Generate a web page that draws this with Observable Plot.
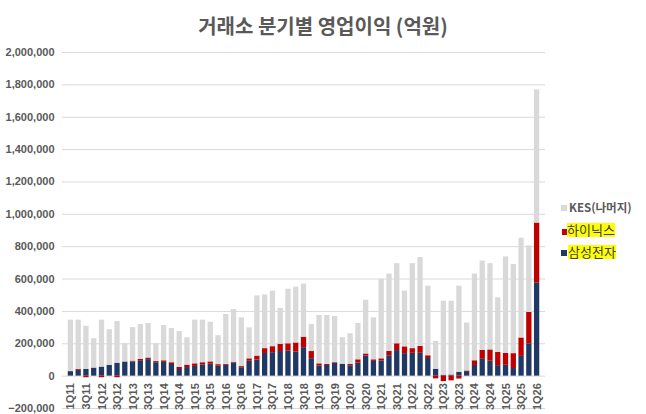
<!DOCTYPE html>
<html>
<head>
<meta charset="utf-8">
<script src="https://cdn.jsdelivr.net/npm/d3@7"></script>
<script src="https://cdn.jsdelivr.net/npm/@observablehq/plot@0.6"></script>
<style>
  html, body { margin: 0; padding: 0; background: #fff; }
  #wrap { position: relative; width: 646px; height: 414px; overflow: hidden; font-family: "Liberation Sans", Arial, "Noto Sans CJK KR", sans-serif; }
  #title { position: absolute; left: 0; top: 14px; width: 646px; text-align: center; line-height: 24px; font-size: 20px; font-weight: bold; color: #595959; font-family: "Noto Sans CJK KR", sans-serif; }
  #chart { position: absolute; left: 0; top: 0; }
  .lg-sq { position: absolute; width: 6px; height: 6px; }
  .lg-tx { position: absolute; white-space: nowrap; color: #404040; font-family: "Noto Sans CJK KR", sans-serif; }
  .hl { background: #FFFF00; display: inline-block; line-height: 14px; height: 14px; }
</style>
</head>
<body>
<div id="wrap">
  <div id="chart"></div>
  <div id="title">거래소 분기별 영업이익 (억원)</div>
  <div id="legend"></div>
</div>
<script>
// Quarters 1Q11 .. 1Q26
const quarters = [
  "1Q11","2Q11","3Q11","4Q11","1Q12","2Q12","3Q12","4Q12",
  "1Q13","2Q13","3Q13","4Q13","1Q14","2Q14","3Q14","4Q14",
  "1Q15","2Q15","3Q15","4Q15","1Q16","2Q16","3Q16","4Q16",
  "1Q17","2Q17","3Q17","4Q17","1Q18","2Q18","3Q18","4Q18",
  "1Q19","2Q19","3Q19","4Q19","1Q20","2Q20","3Q20","4Q20",
  "1Q21","2Q21","3Q21","4Q21","1Q22","2Q22","3Q22","4Q22",
  "1Q23","2Q23","3Q23","4Q23","1Q24","2Q24","3Q24","4Q24",
  "1Q25","2Q25","3Q25","4Q25","1Q26"
];

// 삼성전자 operating profit (억원)
const samsung = [
  28000, 36000, 41000, 50000, 56000, 67000, 80000, 87000,
  88000, 95000, 102000, 83000, 85000, 72000, 41000, 53000,
  60000, 69000, 74000, 61000, 67000, 81000, 52000, 92000,
  99000, 140000, 145000, 152000, 156000, 149000, 176000, 108000,
  62000, 66000, 78000, 72000, 64000, 81000, 124000, 91000,
  94000, 126000, 158000, 139000, 141000, 141000, 109000, 43000,
  6000, 7000, 24000, 28000, 66000, 104000, 92000, 65000,
  67000, 47000, 122000, 200000, 574000
];

// 하이닉스 operating profit (억원)
const hynix = [
  0, 6000, -10000, 0, -10000, 0, -10000, 1000,
  5000, 8000, 10000, 7000, 10000, 11000, 13000, 15000,
  16000, 14000, 14000, 10000, 6000, 5000, 7000, 15000,
  25000, 30000, 37000, 45000, 44000, 56000, 65000, 44000,
  14000, 6000, 5000, 2000, 8000, 20000, 13000, 10000,
  13000, 27000, 42000, 42000, 29000, 42000, 17000, -17000,
  -34000, -29000, -18000, 4000, 29000, 55000, 70000, 81000,
  74000, 92000, 114000, 194000, 372000
];

// KES(나머지) operating profit (억원)
const kesRest = [
  318000, 304000, 267000, 181000, 290000, 220000, 257000, 112000,
  207000, 216000, 213000, 110000, 217000, 211000, 221000, 169000,
  270000, 263000, 245000, 179000, 308000, 326000, 301000, 191000,
  372000, 332000, 343000, 222000, 337000, 345000, 328000, 167000,
  299000, 303000, 286000, 163000, 190000, 224000, 332000, 259000,
  491000, 478000, 495000, 345000, 525000, 550000, 430000, 172000,
  457000, 456000, 532000, 296000, 536000, 552000, 533000, 338000,
  596000, 551000, 616000, 411000, 823000
];

const seriesNames = ["삼성전자", "하이닉스", "KES(나머지)"];
const seriesColors = ["#1F3864", "#C00000", "#D9D9D9"];
const yTicks = [-200000, 0, 200000, 400000, 600000, 800000, 1000000, 1200000, 1400000, 1600000, 1800000, 2000000];
const xLabels = quarters.filter((d, i) => i % 2 === 0);

const rows = quarters.flatMap((q, i) => [
  {q, s: seriesNames[0], v: samsung[i]},
  {q, s: seriesNames[1], v: hynix[i]},
  {q, s: seriesNames[2], v: kesRest[i]}
]);

const chart = Plot.plot({
  width: 646,
  height: 414,
  marginTop: 52,
  marginBottom: 6,
  marginLeft: 62,
  marginRight: 101,
  style: {fontFamily: "'Liberation Sans', Arial, sans-serif", background: "transparent"},
  x: {domain: quarters, paddingInner: 0.32, paddingOuter: 0.74, axis: null},
  y: {domain: [-200000, 2000000], axis: null},
  color: {domain: seriesNames, range: seriesColors},
  marks: [
    Plot.ruleY(yTicks, {stroke: "#D9D9D9", strokeWidth: 1}),
    Plot.barY(rows, {x: "q", y: "v", fill: "s", order: seriesNames}),
    Plot.axisY({ticks: yTicks, tickFormat: d3.format(","), tickSize: 0, tickPadding: 8, label: null,
      fontSize: 11, fontWeight: "bold", fill: "#595959"}),
    Plot.text(xLabels, {x: d => d, y: () => 0, dy: 7, rotate: -90, textAnchor: "end",
      fontSize: 11, fontWeight: "bold", fill: "#595959"})
  ]
});
document.getElementById("chart").appendChild(chart);

// Legend
const legend = document.getElementById("legend");
const legendItems = [
  {name: "KES(나머지)", color: seriesColors[2], sq: [561, 205], tx: [569, 200], size: 11.5, bold: true, hl: false},
  {name: "하이닉스", color: seriesColors[1], sq: [562, 229], tx: [567, 223], size: 13, bold: false, hl: true},
  {name: "삼성전자", color: seriesColors[0], sq: [561, 250], tx: [568, 245], size: 13, bold: false, hl: true}
];
legendItems.forEach(it => {
  const sq = document.createElement("div");
  sq.className = "lg-sq";
  sq.style.left = it.sq[0] + "px";
  sq.style.top = it.sq[1] + "px";
  sq.style.background = it.color;
  legend.appendChild(sq);
  const tx = document.createElement("div");
  tx.className = "lg-tx";
  tx.style.left = it.tx[0] + "px";
  tx.style.top = it.tx[1] + "px";
  tx.style.fontSize = it.size + "px";
  tx.style.lineHeight = "14px";
  tx.style.fontWeight = it.bold ? "bold" : "normal";
  if (it.bold) tx.style.color = "#595959";
  const span = document.createElement("span");
  if (it.hl) span.className = "hl";
  span.textContent = it.name;
  tx.appendChild(span);
  legend.appendChild(tx);
});
</script>
</body>
</html>
